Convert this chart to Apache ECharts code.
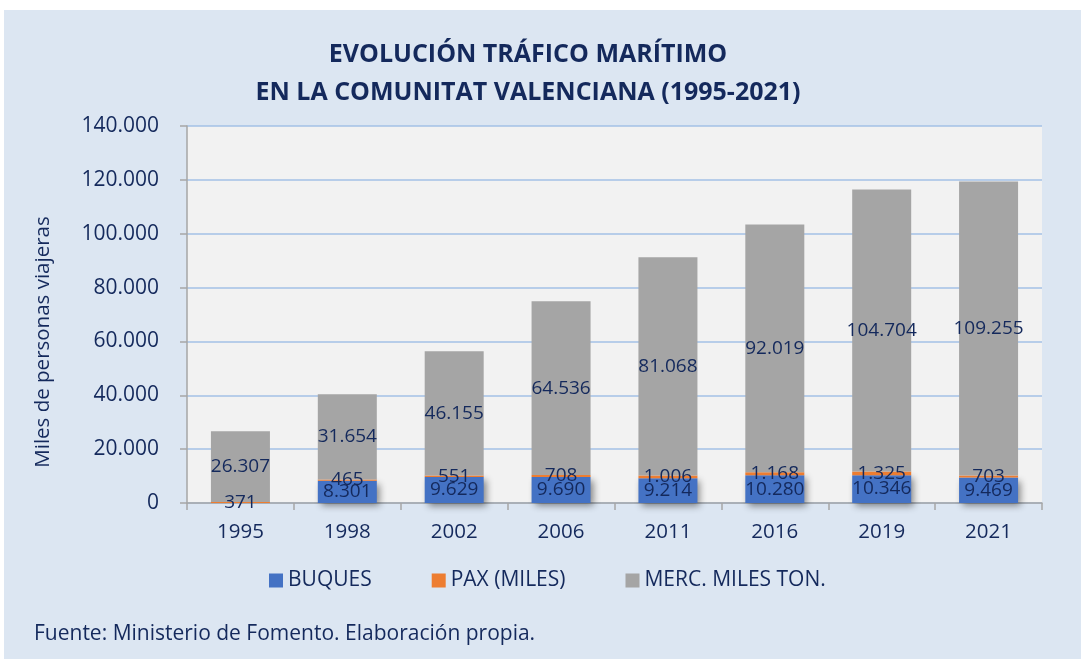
<!DOCTYPE html>
<html>
<head>
<meta charset="utf-8">
<script src="https://cdn.jsdelivr.net/npm/echarts@6/dist/echarts.min.js"></script>
<style>
  html, body { margin: 0; padding: 0; background: #fff; }
  #chart { width: 1081px; height: 659px; }
</style>
</head>
<body>
<div id="chart"></div>
<script>
const years = ['1995', '1998', '2002', '2006', '2011', '2016', '2019', '2021']
const buques = ['-', 8301, 9629, 9690, 9214, 10280, 10346, 9469]
const pax = [371, 465, 551, 708, 1006, 1168, 1325, 703]
const merc = [26307, 31654, 46155, 64536, 81068, 92019, 104704, 109255]

const navy = '#14295c'
const font = 'Open Sans'

// 26307 -> 26.307
const fmt = (v) => String(v).replace(/\B(?=(\d{3})+(?!\d))/g, '.')

const barLabel = {
    show: true,
    position: 'inside',
    color: navy,
    fontFamily: font,
    fontSize: 19,
    formatter: (p) => (p.value === '-' || p.value == null) ? '' : fmt(p.value)
}

let chart = echarts.init(document.getElementById('chart'))

chart.setOption({
    backgroundColor: '#fff',
    textStyle: { fontFamily: font },
    graphic: [
        {
            type: 'rect', z: -10, silent: true,
            shape: { x: 4, y: 10, width: 1077, height: 649 },
            style: { fill: '#dce6f2' }
        },
        {
            type: 'text', left: 34, top: 624,
            style: { text: 'Fuente: Ministerio de Fomento. Elaboración propia.', fill: navy, font: '21px "Open Sans"' }
        },
        {
            type: 'text', x: 43, y: 342, rotation: Math.PI / 2,
            style: {
                text: 'Miles de personas viajeras', fill: navy, font: '20.5px "Open Sans"',
                align: 'center', verticalAlign: 'middle'
            }
        }
    ],
    title: {
        text: 'EVOLUCIÓN TRÁFICO MARÍTIMO\nEN LA COMUNITAT VALENCIANA (1995-2021)',
        left: 523,
        textAlign: 'center',
        top: 31,
        textStyle: { color: navy, fontFamily: font, fontWeight: 'bold', fontSize: 25, lineHeight: 38 }
    },
    legend: {
        top: 565,
        left: 264,
        itemWidth: 14,
        itemHeight: 14,
        itemGap: 60,
        icon: 'rect',
        textStyle: { color: navy, fontFamily: font, fontSize: 21, padding: [0, 0, 0, 0] }
    },
    grid: {
        left: 187, right: 39, top: 126, bottom: 156,
        show: true, backgroundColor: '#f2f2f2', borderWidth: 0
    },
    xAxis: {
        type: 'category',
        data: years,
        axisLine: { lineStyle: { color: '#a6a6a6', width: 1.5 } },
        axisTick: { show: true, length: 7, lineStyle: { color: '#a6a6a6', width: 1.5 } },
        axisLabel: { color: navy, fontFamily: font, fontSize: 20.5, margin: 19 }
    },
    yAxis: {
        type: 'value',
        min: 0,
        max: 140000,
        interval: 20000,
        axisLine: { show: true, lineStyle: { color: '#a6a6a6', width: 1.5 } },
        axisTick: { show: true, length: 7, lineStyle: { color: '#a6a6a6', width: 1.5 } },
        splitLine: { lineStyle: { color: '#a3c0e6', width: 1.5 } },
        axisLabel: { color: navy, fontFamily: font, fontSize: 21, margin: 28, formatter: fmt }
    },
    series: [
        {
            name: 'BUQUES', type: 'bar', stack: 'total', data: buques, barWidth: 59,
            itemStyle: {
                color: '#4472c4',
                shadowColor: 'rgba(0,0,0,0.45)', shadowBlur: 7, shadowOffsetX: 3, shadowOffsetY: 3
            },
            label: barLabel
        },
        {
            name: 'PAX (MILES)', type: 'bar', stack: 'total', data: pax, barWidth: 59,
            itemStyle: { color: '#ed7d31' },
            label: barLabel
        },
        {
            name: 'MERC. MILES TON.', type: 'bar', stack: 'total', data: merc, barWidth: 59,
            itemStyle: { color: '#a5a5a5' },
            label: barLabel
        }
    ]
})
</script>
</body>
</html>
